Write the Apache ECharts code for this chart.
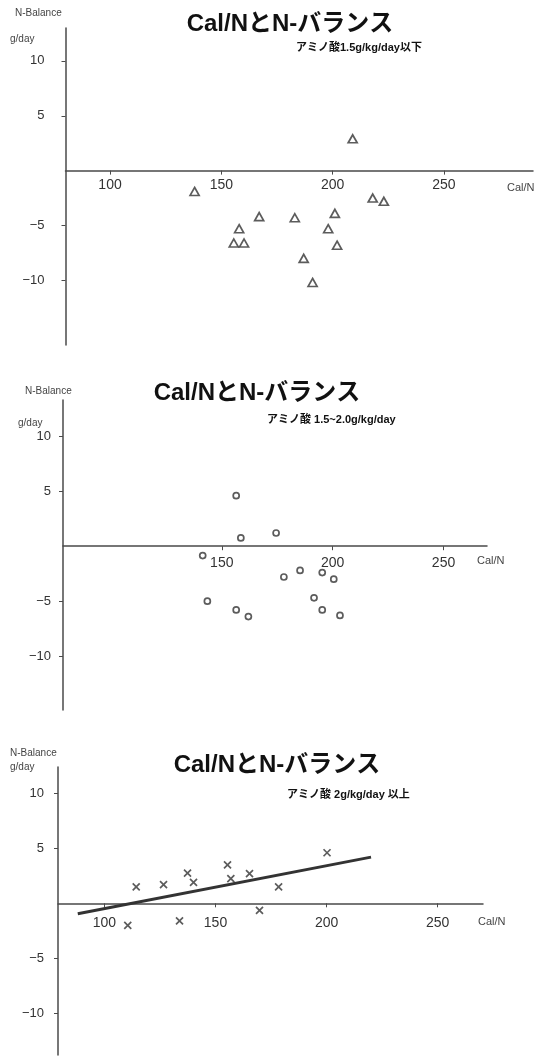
<!DOCTYPE html>
<html>
<head>
<meta charset="utf-8">
<script src="https://cdn.jsdelivr.net/npm/echarts@6/dist/echarts.min.js"></script>
<style>html,body{margin:0;padding:0;background:#fff}#c{width:551px;height:1057px}</style>
</head>
<body>
<div id="c"></div>
<script>
// ---- data ----
const titleText = 'Cal/NとN-バランス';
const subtitles = ['アミノ酸1.5g/kg/day以下', 'アミノ酸 1.5~2.0g/kg/day', 'アミノ酸 2g/kg/day 以上'];
const yTickValues = [-10, -5, 5, 10];
const xTicks1 = [100, 150, 200, 250];
const xTicks2 = [150, 200, 250];
const xTicks3 = [100, 150, 200, 250];

// panel 1: amino acid <= 1.5 g/kg/day (triangles)
const low = [
  [209, 2.9], [138, -1.9], [167, -4.2], [183, -4.3], [201, -3.9], [158, -5.3],
  [198, -5.3], [155.6, -6.6], [160.2, -6.6], [202, -6.8], [187, -8.0], [191, -10.2],
  [218, -2.5], [223, -2.8]
];
// panel 2: amino acid 1.5-2.0 g/kg/day (circles)
const mid = [
  [156.5, 4.6], [158.6, 0.75], [174.5, 1.2], [141.4, -0.85], [178, -2.8], [185.3, -2.2],
  [195.3, -2.4], [200.5, -3.0], [143.5, -5.0], [191.6, -4.7], [156.5, -5.8], [195.3, -5.8],
  [162, -6.4], [203.3, -6.3]
];
// panel 3: amino acid >= 2 g/kg/day (crosses)
const high = [
  [114.3, 1.5], [126.6, 1.7], [137.4, 2.75], [140.1, 1.9], [155.4, 3.5], [156.9, 2.25],
  [165.3, 2.7], [178.4, 1.5], [200.2, 4.6], [110.5, -2.0], [133.8, -1.6], [169.8, -0.65]
];
const trendLine = [[88, -0.95], [220, 4.2]];

// ---- chart ----
const axisColor = '#4a4a4a';
const textColor = '#333';
const FONT = '"Liberation Sans", "Noto Sans CJK JP", sans-serif';

const grids = [
  { left: 65.5, top: 28, width: 467.5, height: 317 },
  { left: 63, top: 400, width: 424, height: 310 },
  { left: 58, top: 767, width: 425, height: 288 }
];
const yRanges = [[-15.9, 13.0], [-14.9, 13.3], [-13.8, 12.4]];

function xAxis(idx, min, max, ticks, margin) {
  const yr = yRanges[idx];
  // place the x axis on y = 0 (axis moved up from the grid bottom)
  const off = -((0 - yr[0]) / (yr[1] - yr[0])) * grids[idx].height;
  return {
    type: 'value', gridIndex: idx, min: min, max: max, position: 'bottom', offset: off,
    splitLine: { show: false },
    axisLine: { onZero: false, lineStyle: { color: axisColor, width: 1.5 } },
    axisTick: { show: true, length: 4, customValues: ticks, lineStyle: { color: axisColor } },
    axisLabel: { customValues: ticks, color: textColor, fontSize: 14, fontFamily: FONT, margin: margin }
  };
}
function yAxis(idx, margin) {
  return {
    type: 'value', gridIndex: idx, min: yRanges[idx][0], max: yRanges[idx][1],
    splitLine: { show: false },
    axisLine: { show: true, onZero: false, lineStyle: { color: axisColor, width: 1.5 } },
    axisTick: { show: true, length: 4, customValues: yTickValues, lineStyle: { color: axisColor } },
    axisLabel: {
      customValues: yTickValues, color: textColor, fontSize: 13, fontFamily: FONT, margin: margin,
      formatter: v => (v < 0 ? '\u2212' + Math.abs(v) : String(v))
    }
  };
}
function txt(x, y, s, size, weight, align, color) {
  return { type: 'text', x: x, y: y, style: {
    text: s, fontSize: size, fontWeight: weight || 'normal', fontFamily: FONT,
    fill: color || '#111', align: align || 'left', verticalAlign: 'middle' } };
}

const chart = echarts.init(document.getElementById('c'), null, { renderer: 'canvas' });
chart.setOption({
  animation: false,
  backgroundColor: '#fff',
  grid: grids,
  xAxis: [
    xAxis(0, 80, 290, xTicks1, 8),
    xAxis(1, 78.4, 269.6, xTicks2, 10),
    xAxis(2, 79.1, 270.4, xTicks3, 13)
  ],
  yAxis: [
    yAxis(0, 21),
    yAxis(1, 12),
    yAxis(2, 14)
  ],
  graphic: [
    txt(290, 24, titleText, 24, 'bold', 'center'),
    txt(296, 48, subtitles[0], 11, 'bold'),
    txt(15, 13, 'N-Balance', 10, 'normal', 'left', '#444'),
    txt(10, 39, 'g/day', 10, 'normal', 'left', '#444'),
    txt(507, 188, 'Cal/N', 11, 'normal', 'left', '#444'),

    txt(257, 393, titleText, 24, 'bold', 'center'),
    txt(267, 420, subtitles[1], 11, 'bold'),
    txt(25, 391, 'N-Balance', 10, 'normal', 'left', '#444'),
    txt(18, 423, 'g/day', 10, 'normal', 'left', '#444'),
    txt(477, 561, 'Cal/N', 11, 'normal', 'left', '#444'),

    txt(277, 765, titleText, 24, 'bold', 'center'),
    txt(287, 795, subtitles[2], 11, 'bold'),
    txt(10, 753, 'N-Balance', 10, 'normal', 'left', '#444'),
    txt(10, 767, 'g/day', 10, 'normal', 'left', '#444'),
    txt(478, 922, 'Cal/N', 11, 'normal', 'left', '#444')
  ],
  series: [
    { type: 'scatter', xAxisIndex: 0, yAxisIndex: 0, data: low,
      symbol: 'triangle', symbolSize: [9, 8],
      itemStyle: { color: '#fff', borderColor: '#333', borderWidth: 1.7 } },
    { type: 'scatter', xAxisIndex: 1, yAxisIndex: 1, data: mid,
      symbol: 'circle', symbolSize: 6,
      itemStyle: { color: '#fff', borderColor: '#333', borderWidth: 1.7 } },
    { type: 'scatter', xAxisIndex: 2, yAxisIndex: 2, data: high,
      symbol: 'path://M0,0L10,10M10,0L0,10', symbolSize: 7,
      itemStyle: { color: 'none', borderColor: '#333', borderWidth: 1.7 } },
    { type: 'line', xAxisIndex: 2, yAxisIndex: 2, data: trendLine,
      symbol: 'none', lineStyle: { color: '#333', width: 3 } }
  ]
});
</script>
</body>
</html>
